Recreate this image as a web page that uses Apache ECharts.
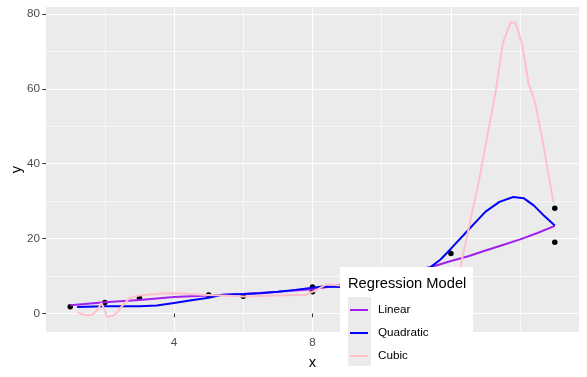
<!DOCTYPE html>
<html>
<head>
<meta charset="utf-8">
<script src="https://cdn.jsdelivr.net/npm/echarts@6/dist/echarts.min.js"></script>
<style>
  html, body { margin: 0; padding: 0; background: #fff; }
  #chart { width: 587px; height: 377px; }
</style>
</head>
<body>
<div id="chart"></div>
<script>
// observed points
const pointX = [1, 2, 3, 5, 6, 8, 8, 12, 15, 15];
const pointY = [1.8, 2.9, 4.1, 4.9, 4.6, 7.1, 5.8, 16.0, 28.1, 19.0];

// fitted curves
const linearX = [1, 2, 3, 4, 5, 6, 7, 8, 8.5, 9, 10, 11, 11.5, 12, 12.5, 13, 13.5, 14, 14.5, 15];
const linearY = [2.2, 3.0, 3.6, 4.4, 4.8, 5.2, 5.8, 6.5, 7.1, 8.0, 9.8, 11.6, 12.6, 14.0, 15.3, 16.8, 18.3, 19.8, 21.5, 23.4];

const quadX = [1.2, 2, 3, 3.5, 4, 4.5, 5, 5.4, 6, 6.5, 7, 7.5, 8, 8.3, 8.8, 9.5, 10, 10.5, 11, 11.4, 11.7, 12, 12.5, 13, 13.4, 13.8, 14.1, 14.4, 14.7, 15];
const quadY = [1.7, 1.9, 1.9, 2.1, 2.8, 3.5, 4.2, 5.0, 5.2, 5.4, 5.8, 6.3, 6.9, 7.2, 7.1, 7.8, 8.6, 9.6, 10.8, 12.3, 14.4, 17.3, 22.3, 27.2, 29.8, 31.1, 30.8, 28.8, 26.0, 23.5];

const cubicX = [1.2, 1.35, 1.5, 1.65, 1.8, 1.9, 2.0, 2.06, 2.2, 2.35, 2.5, 2.7, 2.85, 3.0, 3.4, 3.8, 4.2, 4.8, 5.4, 6, 6.9, 7.8, 8.1, 8.4, 8.8, 9.5, 10.5, 11.5, 12.0, 12.25, 12.5, 12.8, 13.1, 13.3, 13.5, 13.72, 13.86, 14.05, 14.24, 14.44, 14.68, 14.96];
const cubicY = [0.4, -0.3, -0.5, -0.3, 1.2, 2.8, 0.8, -1.0, -0.7, 0.2, 2.0, 4.0, 4.5, 4.8, 5.1, 5.4, 5.3, 5.0, 4.8, 4.5, 4.8, 5.0, 6.2, 7.8, 7.5, 7.5, 7.8, 8.5, 9.5, 11.5, 22.2, 35.0, 49.8, 59.7, 72.2, 77.7, 77.7, 72.2, 61.5, 56.1, 44.5, 29.8];

const xMajor = [4, 8, 12];
const xMinor = [2, 6, 10, 14];
const yMajor = [0, 20, 40, 60, 80];
const yMinor = [10, 30, 50, 70];

const FONT = 'Liberation Sans, Arial, sans-serif';
const zip = (xs, ys) => xs.map((x, i) => [x, ys[i]]);

const chart = echarts.init(document.getElementById('chart'));

const baseX = {
    type: 'value', min: 0.3, max: 15.7, gridIndex: 0,
    axisLine: {show: false}
};
const baseY = {
    type: 'value', min: -4.95, max: 81.85, gridIndex: 0,
    axisLine: {show: false}
};

chart.setOption({
    animation: false,
    grid: {
        left: 46, top: 7, width: 533, height: 325,
        containLabel: false, outerBoundsMode: 'none',
        show: true, backgroundColor: '#EBEBEB', borderWidth: 0
    },
    xAxis: [
        Object.assign({}, baseX, {
            position: 'bottom',
            name: 'x', nameLocation: 'middle', nameGap: 23, nameMoveOverlap: false,
            nameTextStyle: {color: '#000', fontSize: 14.7, fontFamily: FONT},
            axisTick: {show: true, length: 3.7, customValues: xMajor, lineStyle: {color: '#333333', width: 1}},
            axisLabel: {customValues: xMajor, color: '#4D4D4D', fontSize: 11.7, fontFamily: FONT, margin: 5},
            splitLine: {show: true, lineStyle: {color: '#FFFFFF', width: 1.1}}
        }),
        Object.assign({}, baseX, {
            axisTick: {show: false, customValues: xMinor},
            axisLabel: {show: false},
            splitLine: {show: true, lineStyle: {color: '#FFFFFF', width: 0.6}}
        })
    ],
    yAxis: [
        Object.assign({}, baseY, {
            position: 'left',
            name: 'y', nameLocation: 'middle', nameGap: 22, nameMoveOverlap: false,
            nameTextStyle: {color: '#000', fontSize: 14.7, fontFamily: FONT},
            axisTick: {show: true, length: 3.7, customValues: yMajor, lineStyle: {color: '#333333', width: 1}},
            axisLabel: {customValues: yMajor, color: '#4D4D4D', fontSize: 11.7, fontFamily: FONT, margin: 6},
            splitLine: {show: true, lineStyle: {color: '#FFFFFF', width: 1.1}}
        }),
        Object.assign({}, baseY, {
            axisTick: {show: false, customValues: yMinor},
            axisLabel: {show: false},
            splitLine: {show: true, lineStyle: {color: '#FFFFFF', width: 0.6}}
        })
    ],
    legend: {
        data: ['Linear', 'Quadratic', 'Cubic'],
        orient: 'vertical',
        left: 350, top: 298.5,
        padding: 0, itemGap: 0,
        itemWidth: 18, itemHeight: 2,
        icon: 'rect',
        z: 12,
        textStyle: {color: '#000', fontSize: 11.7, fontFamily: FONT, lineHeight: 23, padding: [0, 0, 0, 5]}
    },
    graphic: [
        {type: 'rect', z: 10, shape: {x: 340, y: 267, width: 133, height: 107}, style: {fill: '#FFFFFF'}},
        {type: 'rect', z: 11, shape: {x: 348, y: 297, width: 23, height: 69}, style: {fill: '#EBEBEB'}},
        {type: 'text', z: 11, x: 348, y: 284,
         style: {text: 'Regression Model', fill: '#000', fontSize: 14.7, fontFamily: FONT, verticalAlign: 'middle'}}
    ],
    series: [
        {
            type: 'scatter', name: 'points', data: zip(pointX, pointY),
            symbolSize: 5.5, itemStyle: {color: '#000', opacity: 1}
        },
        {
            type: 'line', name: 'Linear', data: zip(linearX, linearY),
            showSymbol: false, color: '#A020F0', lineStyle: {width: 2}
        },
        {
            type: 'line', name: 'Quadratic', data: zip(quadX, quadY),
            showSymbol: false, color: '#0000FF', lineStyle: {width: 2}
        },
        {
            type: 'line', name: 'Cubic', data: zip(cubicX, cubicY),
            showSymbol: false, color: '#FFC0CB', lineStyle: {width: 2}
        }
    ]
});
</script>
</body>
</html>
